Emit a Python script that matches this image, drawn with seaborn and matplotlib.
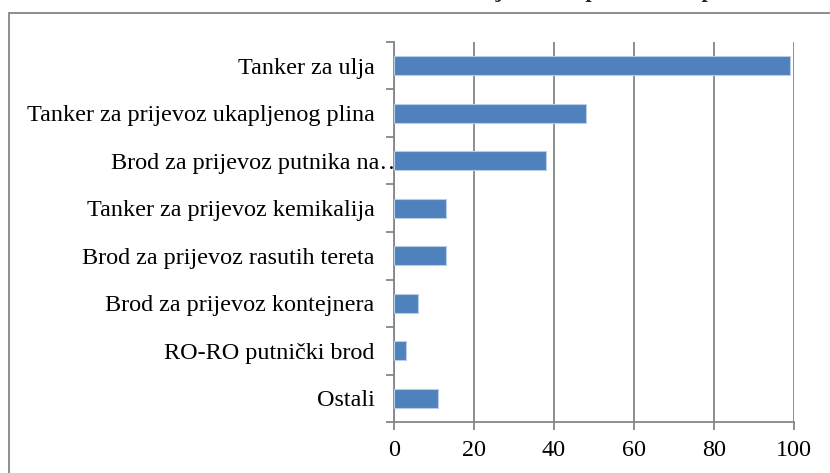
import matplotlib
matplotlib.use("Agg")
import matplotlib.pyplot as plt
import matplotlib.transforms as mtransforms
from matplotlib.patches import Rectangle
import pandas as pd
import seaborn as sns

categories = [
    "Tanker za ulja",
    "Tanker za prijevoz ukapljenog plina",
    "Brod za prijevoz putnika na…",
    "Tanker za prijevoz kemikalija",
    "Brod za prijevoz rasutih tereta",
    "Brod za prijevoz kontejnera",
    "RO-RO putnički brod",
    "Ostali",
]
values = [99, 48, 38, 13, 13, 6, 3, 11]
x_ticks = [0, 20, 40, 60, 80, 100]
title = "Broj nesreća prema vrsti plovila"

sns.set_theme(style="white")
plt.rcParams["font.family"] = ["Liberation Serif", "DejaVu Serif"]

df = pd.DataFrame({"tip": categories, "broj": values})
grid_col = "#868686"

fig = plt.figure(figsize=(8.3, 4.73), dpi=100)
ax = fig.add_axes([394 / 830, 1 - 422 / 473, 400 / 830, 380 / 473])

sns.barplot(df, x="broj", y="tip", orient="h", color="#4F81BD", width=0.39,
            edgecolor="#B9CDE5", linewidth=0.8, saturation=1, ax=ax, zorder=3)

ax.set_xlim(0, 100)
ax.set_ylim(len(categories) - 0.5, -0.5)
ax.set_xticks(x_ticks)
ax.set_xticklabels([str(t) for t in x_ticks])
ax.set_xlabel("")
ax.set_ylabel("")
ax.grid(axis="x", color=grid_col, linewidth=1.3, zorder=0)
ax.grid(axis="y", visible=False)
ax.set_axisbelow(True)

for side in ["top", "right"]:
    ax.spines[side].set_visible(False)
for side in ["left", "bottom"]:
    ax.spines[side].set_color(grid_col)
    ax.spines[side].set_linewidth(1.3)

# category ticks sit on boundaries, labels centred on bars
ax.set_yticks([i - 0.5 for i in range(len(categories) + 1)], minor=False)
ax.set_yticklabels([])
ax.set_yticks(range(len(categories)), minor=True)
ax.set_yticklabels(categories, minor=True, fontsize=17.4, color="black")
ax.tick_params(axis="y", which="major", direction="out", length=6, width=1.3,
               color=grid_col, left=True)
ax.tick_params(axis="y", which="minor", length=0, pad=14)
ax.tick_params(axis="x", direction="out", length=6, width=1.3, color=grid_col,
               bottom=True, labelsize=17.4, labelcolor="black", pad=7)

# the truncated label runs up to the axis like in the original
lbl = ax.get_yticklabels(minor=True)[2]
lbl.set_transform(lbl.get_transform() + mtransforms.ScaledTranslation(0.29, 0, fig.dpi_scale_trans))

# chart frame (clipped by the image edges)
fig.patches.append(Rectangle((9 / 830, -0.1), 1.2, 1.1 - 13 / 473, transform=fig.transFigure,
                             fill=False, edgecolor=grid_col, linewidth=1.3))

# title sits above the visible area, only its descenders show
fig.text(613 / 830, 1 + 3 / 473, title, ha="center", va="baseline",
         fontsize=16, fontweight="bold")

fig.savefig("out.png", dpi=100)
